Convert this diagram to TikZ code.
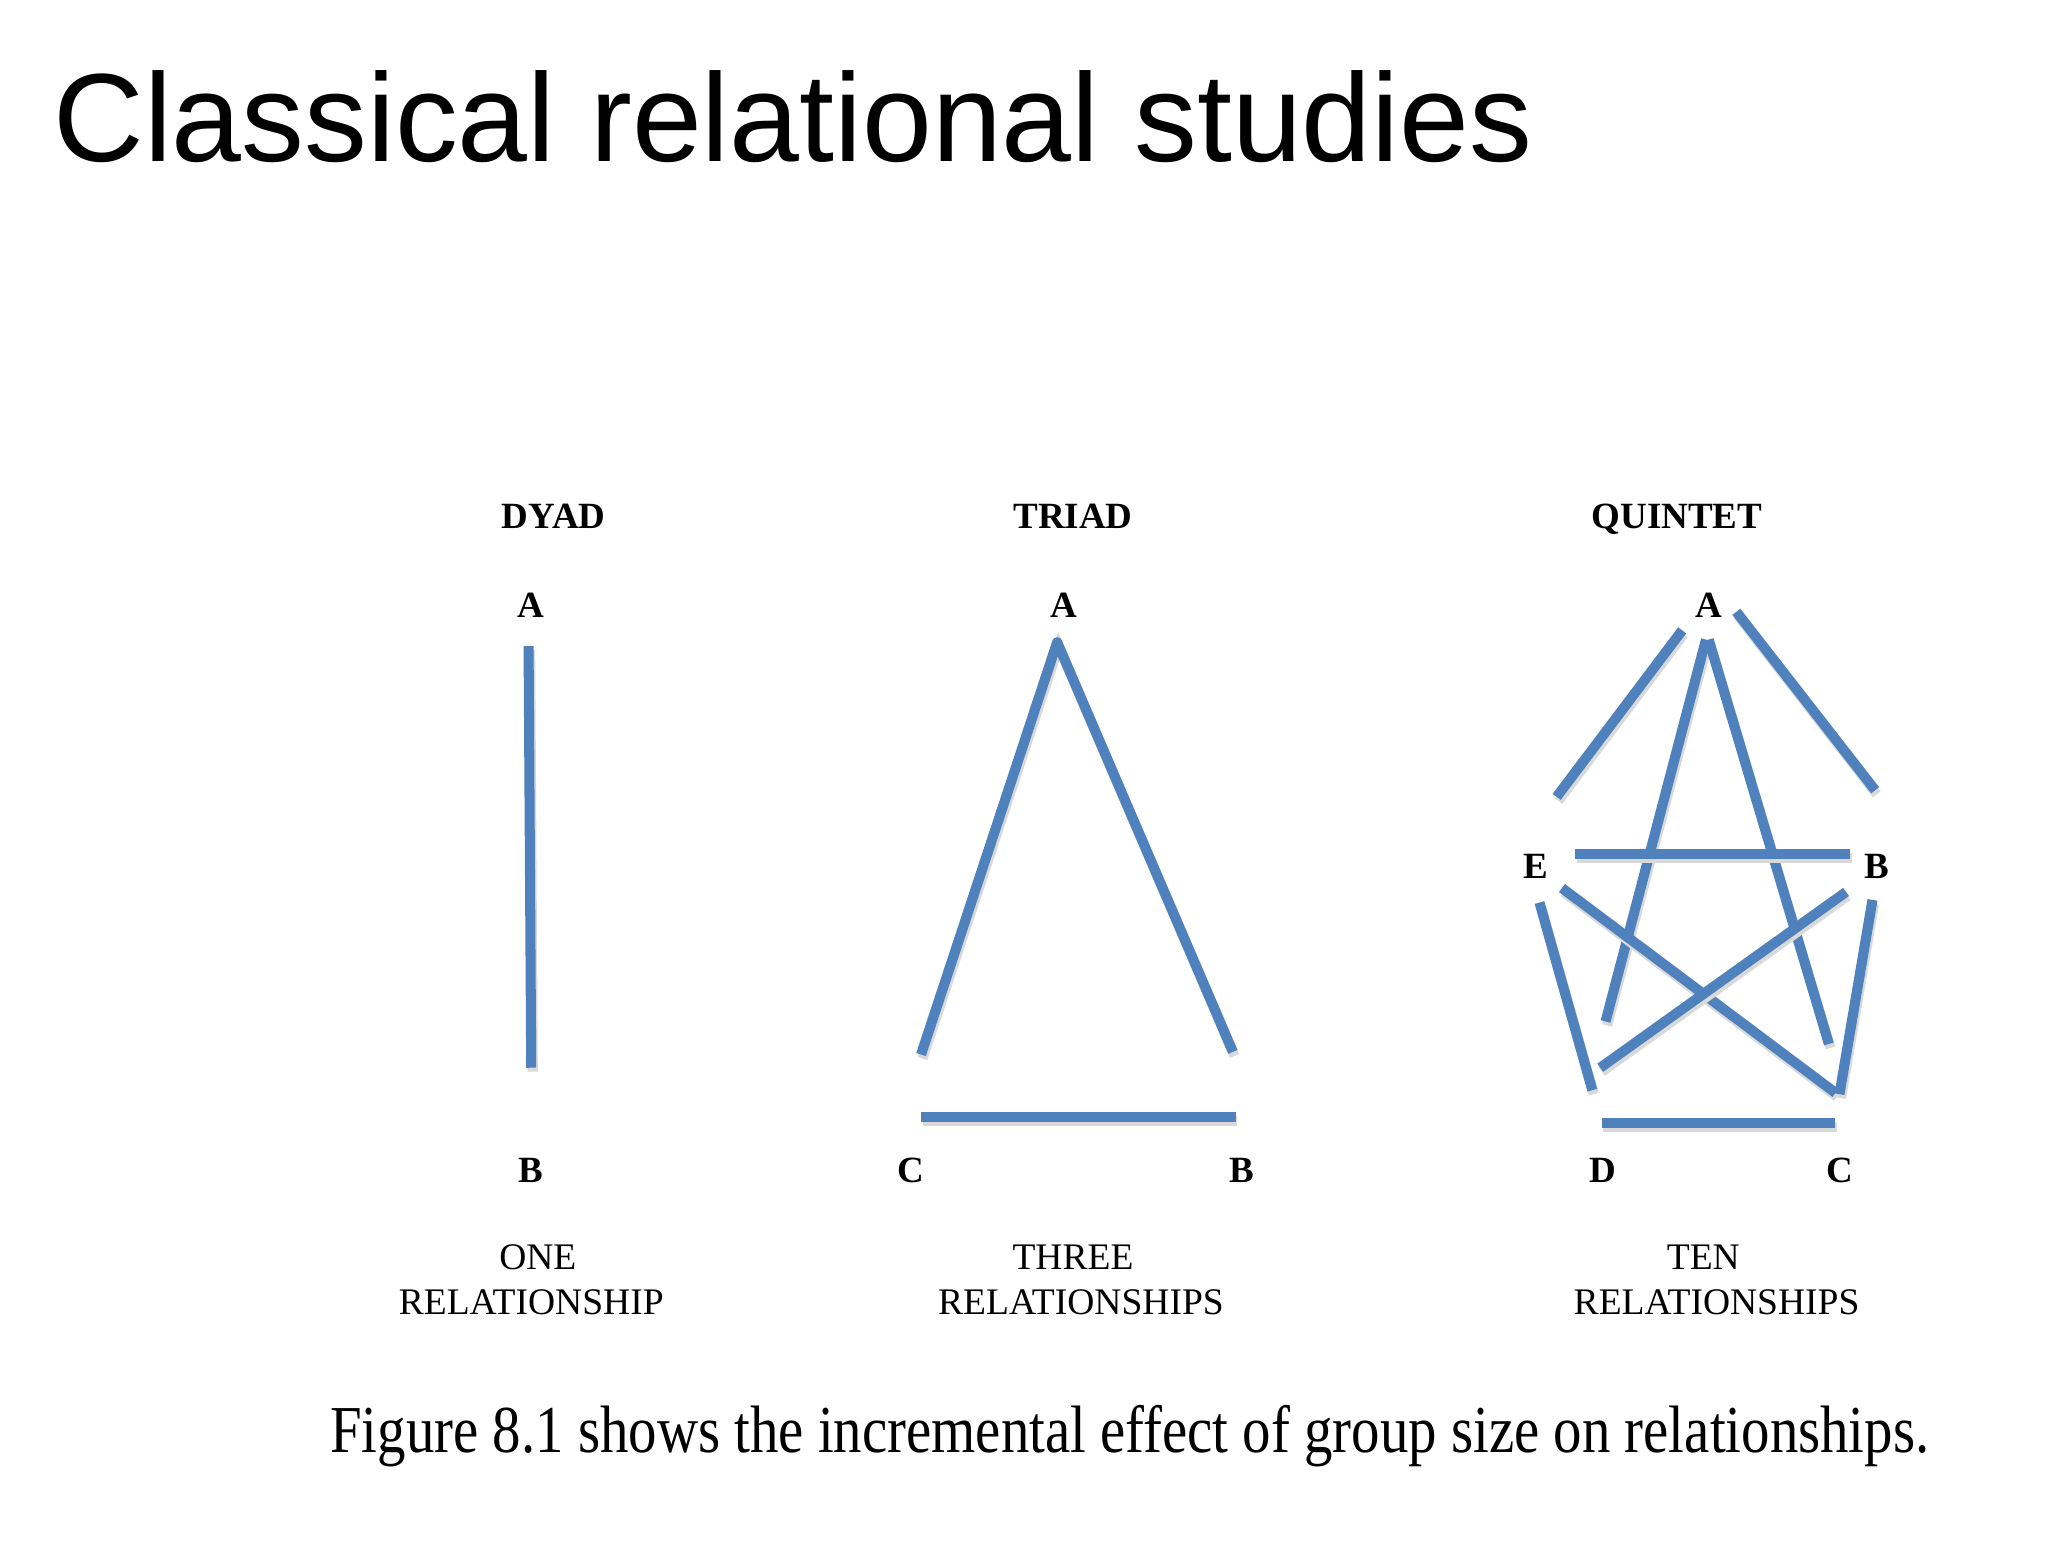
\documentclass[tikz,border=0pt]{standalone}
\usepackage{fontspec}
\setmainfont{Liberation Serif}
\newfontfamily\titlefont{Liberation Sans}
\definecolor{relblue}{RGB}{79,129,189}
\begin{document}
\begin{tikzpicture}[x=0.5pt,y=-0.5pt,
  rel/.style={draw=relblue,line width=3.8pt,
    preaction={draw=black!15,line width=3.8pt,transform canvas={shift={(0.6pt,-1.5pt)}}}},
  head/.style={anchor=base,inner sep=0pt,font=\fontsize{14}{16}\selectfont\bfseries},
  vlab/.style={anchor=base,inner sep=0pt,font=\fontsize{14}{16}\selectfont\bfseries},
  cnt/.style={anchor=base,inner sep=0pt,font=\fontsize{14.2}{16}\selectfont}]
\useasboundingbox[fill=white] (0,0) rectangle (1568,1184);
% title
\node[anchor=base west,inner sep=0pt,font=\fontsize{47.5}{56}\selectfont\titlefont] (title) at (40,122) {Classical relational studies};
% headers
\node[head] (hdyad) at (419,400) {DYAD};
\node[head] (htriad) at (812,400) {TRIAD};
\node[head] (hquint) at (1269,400) {QUINTET};
% dyad
\node[vlab] (dA) at (402,467) {A};
\node[vlab] (dB) at (402,895) {B};
\coordinate (d1) at (400,489);
\coordinate (d2) at (402,808);
\draw[rel] (d1) -- (d2);
% triad
\node[vlab] (tA) at (805,467) {A};
\node[vlab] (tC) at (689,895) {C};
\node[vlab] (tB) at (940,895) {B};
\coordinate (tc1) at (697,798);
\coordinate (ta) at (800,486);
\coordinate (tb1) at (933,796);
\coordinate (tc2) at (697,845);
\coordinate (tb2) at (935,845);
\draw[rel,line join=round] (tc1) -- (ta) -- (tb1);
\draw[rel] (tc2) -- (tb2);
% quintet
\node[vlab] (qA) at (1293,467) {A};
\node[vlab] (qE) at (1162,665) {E};
\node[vlab] (qB) at (1420,665) {B};
\node[vlab] (qD) at (1213,895) {D};
\node[vlab] (qC) at (1392,895) {C};
\coordinate (qae1) at (1273,477); \coordinate (qae2) at (1178,603);
\coordinate (qab1) at (1314,463); \coordinate (qab2) at (1419,598);
\coordinate (qad1) at (1291,484); \coordinate (qad2) at (1215,773);
\coordinate (qac1) at (1293,484); \coordinate (qac2) at (1384,790);
\coordinate (qeb1) at (1192,646); \coordinate (qeb2) at (1400,646);
\coordinate (qec1) at (1182,672); \coordinate (qec2) at (1389,827);
\coordinate (qbd1) at (1397,675); \coordinate (qbd2) at (1211,808);
\coordinate (qed1) at (1165,683); \coordinate (qed2) at (1205,825);
\coordinate (qbc1) at (1417,681); \coordinate (qbc2) at (1392,828);
\coordinate (qdc1) at (1212,850); \coordinate (qdc2) at (1389,850);
\draw[rel] (qae1) -- (qae2);
\draw[rel] (qab1) -- (qab2);
\draw[rel] (qad1) -- (qad2);
\draw[rel] (qac1) -- (qac2);
\draw[rel] (qeb1) -- (qeb2);
\draw[rel] (qec1) -- (qec2);
\draw[rel] (qbd1) -- (qbd2);
\draw[rel] (qed1) -- (qed2);
\draw[rel] (qbc1) -- (qbc2);
\draw[rel] (qdc1) -- (qdc2);
% counts
\node[cnt] (c1a) at (407,961) {ONE};
\node[cnt] (c1b) at (402,995) {RELATIONSHIP};
\node[cnt] (c2a) at (812,961) {THREE};
\node[cnt] (c2b) at (818,995) {RELATIONSHIPS};
\node[cnt] (c3a) at (1289,961) {TEN};
\node[cnt] (c3b) at (1299,995) {RELATIONSHIPS};
% caption
\node[anchor=base,inner sep=0pt,font=\fontsize{21.5}{24}\selectfont] (cap) at (855,1099) {\scalebox{1}[1.18]{Figure 8.1 shows the incremental effect of group size on relationships.}};
\end{tikzpicture}
\end{document}
